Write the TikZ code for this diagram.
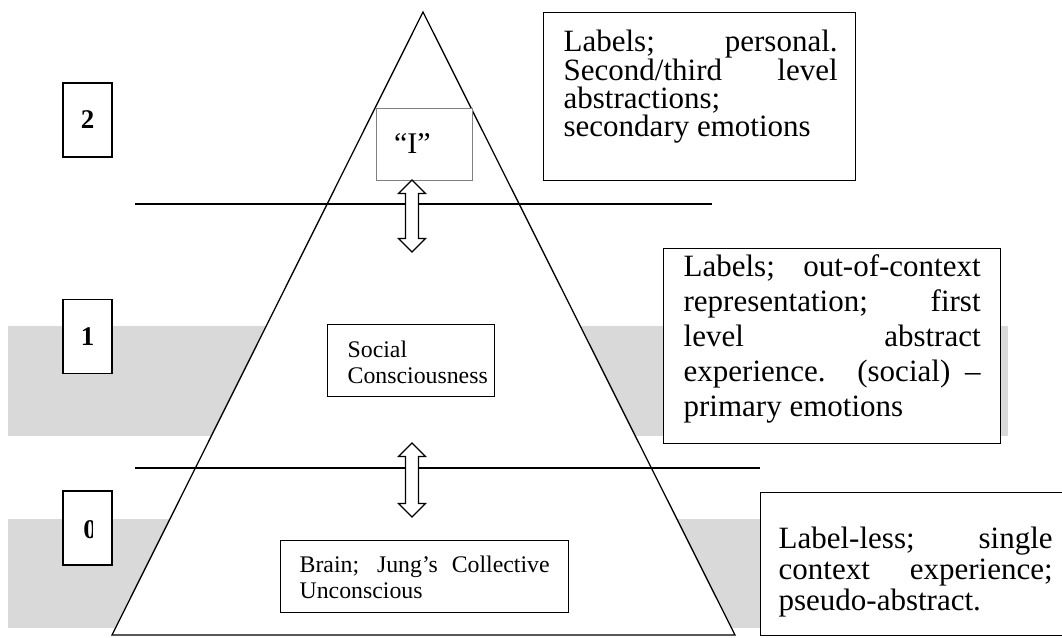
\documentclass[tikz,border=0pt]{standalone}
\usepackage{fontspec}
\setmainfont{Liberation Serif}
\definecolor{bandgray}{RGB}{217,217,217}
\begin{document}
\begin{tikzpicture}[x=1pt,y=-1pt,line width=1.3pt,
  boxsty/.style={draw,fill=white,inner sep=0pt,anchor=north west},
  bigtext/.style={inner sep=0pt,anchor=north west,align=justify},
  smalltext/.style={inner sep=0pt,anchor=north west,align=justify,font=\fontsize{23.8}{26}\selectfont},
  lvlbox/.style={draw,fill=white,inner sep=0pt,minimum width=49pt,minimum height=74pt,
    font=\bfseries\fontsize{27}{27}\selectfont},
  dblarrow/.style={draw,fill=white,line width=1.3pt,line join=miter}]
\useasboundingbox (0,0) rectangle (1062,637);
% grey bands
\fill[bandgray] (8,326) rectangle (1008,436);
\fill[bandgray] (8,519) rectangle (780,628);
% pyramid
\coordinate (apex) at (423,12);
\coordinate (bl) at (112,635);
\coordinate (br) at (735,635);
\draw[fill=white] (apex) -- (br) -- (bl) -- cycle;
% level lines
\coordinate (l1a) at (135,204); \coordinate (l1b) at (712,204);
\coordinate (l2a) at (135,468); \coordinate (l2b) at (760,468);
\draw (l1a) -- (l1b);
\draw (l2a) -- (l2b);
% level number boxes
\node[lvlbox] (n2) at (87.5,120) {\raisebox{-3pt}{2}};
\node[lvlbox] (n1) at (87.5,336.5) {\raisebox{-1pt}{1}};
\node[lvlbox] (n0) at (87.5,528) {};
\begin{scope}
\clip (60,490) rectangle (92,566);
\node[inner sep=0pt,font=\bfseries\fontsize{27}{27}\selectfont] (n0t) at (90,530) {0};
\end{scope}
% I box
\node[draw=gray,line width=0.8pt,fill=white,inner sep=0pt,minimum width=96pt,minimum height=72pt,
  font=\fontsize{30}{30}\selectfont] (I) at (424,144) {\makebox[96pt][l]{\hspace{18pt}“I”}};
% inner boxes
\node[boxsty,minimum width=167pt,minimum height=72pt] (soc) at (327,324) {};
\node[smalltext,text width=140pt] (soct) at ([xshift=20pt,yshift=-13pt]soc.north west)
  {\rule{0pt}{20pt}Social\\Consciousness};
\node[boxsty,minimum width=288pt,minimum height=72pt] (brain) at (280,540) {};
\node[smalltext,text width=250pt] (braint) at ([xshift=19pt,yshift=-12pt]brain.north west)
  {\rule{0pt}{20pt}Brain; Jung’s Collective\linebreak Unconscious};
% arrows
\draw[dblarrow] (412,180) -- (425.5,193.5) -- (418.5,193.5) -- (418.5,238.5) -- (425.5,238.5)
  -- (412,252) -- (398.5,238.5) -- (405.5,238.5) -- (405.5,193.5) -- (398.5,193.5) -- cycle;
\draw[dblarrow] (412,443) -- (425.5,456.5) -- (418.5,456.5) -- (418.5,503.5) -- (425.5,503.5)
  -- (412,517) -- (398.5,503.5) -- (405.5,503.5) -- (405.5,456.5) -- (398.5,456.5) -- cycle;
% right-hand text boxes
\node[boxsty,minimum width=312pt,minimum height=168pt] (d2) at (543,12) {};
\node[bigtext,text width=274pt,font=\fontsize{31}{28}\selectfont] (d2t) at ([xshift=20pt,yshift=-17pt]d2.north west)
  {\rule{0pt}{22pt}Labels; personal.\linebreak Second/third level\linebreak abstractions;\\ secondary emotions};
\node[boxsty,minimum width=337pt,minimum height=195pt] (d1) at (663,248) {};
\node[bigtext,text width=297pt,font=\fontsize{31}{35}\selectfont] (d1t) at ([xshift=20pt,yshift=-6pt]d1.north west)
  {\rule{0pt}{22pt}Labels; out-of-context\linebreak representation; first\linebreak level abstract\linebreak experience. (social) –\linebreak primary emotions};
\node[boxsty,minimum width=320pt,minimum height=143pt] (d0) at (760,492) {};
\node[bigtext,text width=274pt,font=\fontsize{31}{31}\selectfont] (d0t) at ([xshift=18pt,yshift=-34pt]d0.north west)
  {\rule{0pt}{22pt}Label-less; single\linebreak context experience;\linebreak pseudo-abstract.};
\end{tikzpicture}
\end{document}
